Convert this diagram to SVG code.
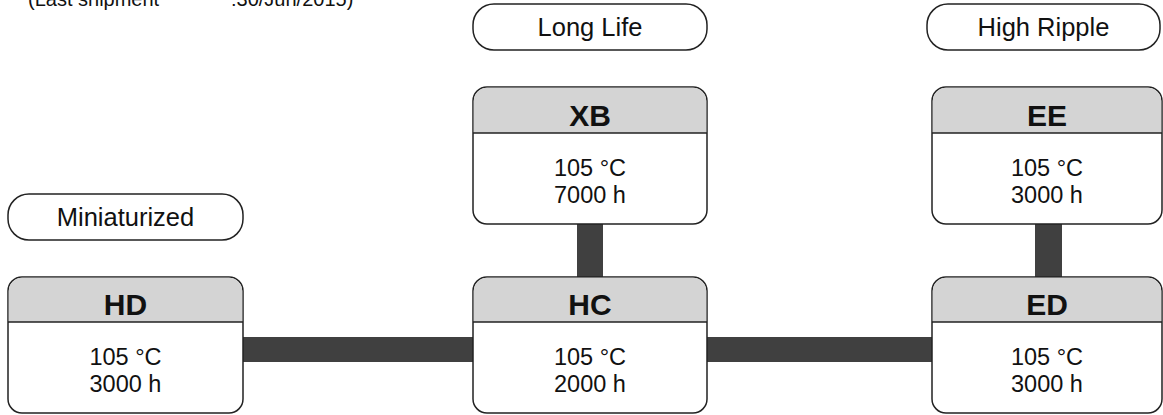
<svg xmlns="http://www.w3.org/2000/svg" width="1163" height="415" viewBox="0 0 1163 415">
<style>
text{font-family:"Liberation Sans",Arial,sans-serif;fill:#111;text-anchor:middle}
.pill{fill:#fff;stroke:#222;stroke-width:1.5}
.box{fill:#fff;stroke:#222;stroke-width:1.5}
.hdr{fill:#d4d4d4}
.div{stroke:#222;stroke-width:1.5}
.t{font-size:30px;font-weight:bold}
.b{font-size:23.5px}
.p{font-size:25.5px}
.bar{fill:#404040}
</style>
<rect width="1163" height="415" fill="#fff"/>
<text style="text-anchor:start;font-size:20px" y="5.5"><tspan x="28">(Last shipment</tspan><tspan x="231">:30/Jun/2015)</tspan></text>
<g id="connectors">
<rect class="bar" x="243" y="337" width="230" height="25"/>
<rect class="bar" x="707" y="337" width="225" height="25"/>
<rect class="bar" x="577" y="224" width="26" height="53"/>
<rect class="bar" x="1035" y="224" width="27" height="53"/>
</g>
<g id="pill-miniaturized">
<rect class="pill" x="8" y="194" width="235" height="46" rx="21"/>
<text class="p" x="125.5" y="226">Miniaturized</text>
</g>
<g id="pill-longlife">
<rect class="pill" x="473" y="4" width="234" height="46" rx="21"/>
<text class="p" x="590" y="36">Long Life</text>
</g>
<g id="pill-highripple">
<rect class="pill" x="927" y="4" width="233" height="46" rx="21"/>
<text class="p" x="1043.5" y="36">High Ripple</text>
</g>
<g id="node-HD">
<rect class="box" x="8" y="277" width="235" height="136" rx="14"/>
<path class="hdr" d="M8.75,322 V291 a13.25,13.25 0 0 1 13.25,-13.25 H229 a13.25,13.25 0 0 1 13.25,13.25 V322 Z"/>
<line class="div" x1="8" y1="322" x2="243" y2="322"/>
<text class="t" x="125.5" y="315">HD</text>
<text class="b" x="125.5" y="365">105 °C</text>
<text class="b" x="125.5" y="392">3000 h</text>
</g>
<g id="node-HC">
<rect class="box" x="473" y="277" width="234" height="136" rx="14"/>
<path class="hdr" d="M473.75,322 V291 a13.25,13.25 0 0 1 13.25,-13.25 H693 a13.25,13.25 0 0 1 13.25,13.25 V322 Z"/>
<line class="div" x1="473" y1="322" x2="707" y2="322"/>
<text class="t" x="590" y="315">HC</text>
<text class="b" x="590" y="365">105 °C</text>
<text class="b" x="590" y="392">2000 h</text>
</g>
<g id="node-XB">
<rect class="box" x="473" y="87" width="234" height="137" rx="14"/>
<path class="hdr" d="M473.75,133 V101 a13.25,13.25 0 0 1 13.25,-13.25 H693 a13.25,13.25 0 0 1 13.25,13.25 V133 Z"/>
<line class="div" x1="473" y1="133" x2="707" y2="133"/>
<text class="t" x="590" y="126">XB</text>
<text class="b" x="590" y="176">105 °C</text>
<text class="b" x="590" y="203">7000 h</text>
</g>
<g id="node-EE">
<rect class="box" x="932" y="87" width="230" height="137" rx="14"/>
<path class="hdr" d="M932.75,133 V101 a13.25,13.25 0 0 1 13.25,-13.25 H1148 a13.25,13.25 0 0 1 13.25,13.25 V133 Z"/>
<line class="div" x1="932" y1="133" x2="1162" y2="133"/>
<text class="t" x="1047" y="126">EE</text>
<text class="b" x="1047" y="176">105 °C</text>
<text class="b" x="1047" y="203">3000 h</text>
</g>
<g id="node-ED">
<rect class="box" x="932" y="277" width="230" height="136" rx="14"/>
<path class="hdr" d="M932.75,322 V291 a13.25,13.25 0 0 1 13.25,-13.25 H1148 a13.25,13.25 0 0 1 13.25,13.25 V322 Z"/>
<line class="div" x1="932" y1="322" x2="1162" y2="322"/>
<text class="t" x="1047" y="315">ED</text>
<text class="b" x="1047" y="365">105 °C</text>
<text class="b" x="1047" y="392">3000 h</text>
</g>
</svg>
